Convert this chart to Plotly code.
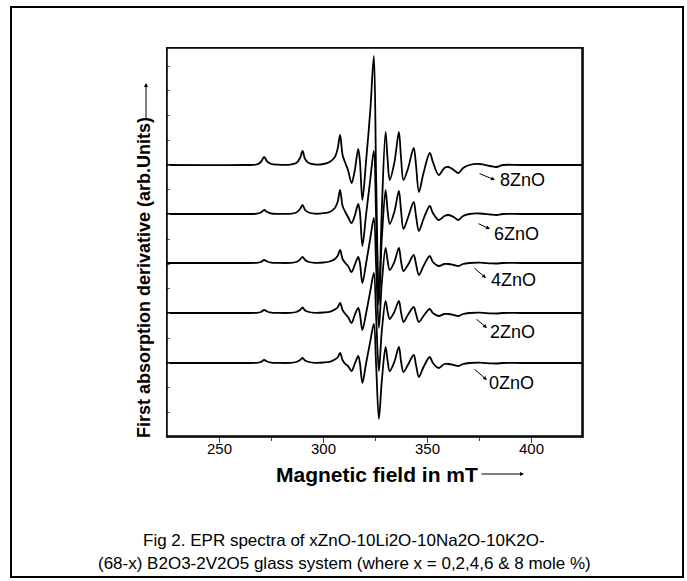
import plotly.graph_objects as go

# Magnetic field key positions (mT)
FIELD = [225, 262, 268, 270, 271.6, 273, 275, 278, 284, 287,
         288.8, 290, 291.2, 293, 296, 300, 303, 305.5, 306.8, 308,
         309.2, 310.5, 311.8, 313.5, 315, 316.7, 317.5, 318.7, 320.5, 322.5,
         324.2, 325.3, 326.6, 328, 329.8, 330.8, 331.8, 334, 336.2, 337.2,
         338.4, 340.5, 343.3, 344.4, 345.8, 348, 351, 352.5, 355.3, 358,
         360, 362.5, 364.7, 367, 370, 375, 380, 383, 386, 395,
         424]

# First-derivative signal (arb. units) for each composition
ZNO_8 = [0, 0, 0.5, 3, 8, 3.5, 1, 0.3, 0.3, 2,
         7, 14, 6, 2, 0.5, 1, 3, 8, 16, 30,
         10, 2, -5, -18, -6, 16, 4, -35, 5, 55,
         109, -15, -140, -45, 33, 5, -15, 2, 33, 8,
         -15, -4, 17, 0, -27, -8, 12, 3, -10, -3,
         -2, -5, -8, -3, 0, 1, -1, -2, 0, 0,
         0]
ZNO_6 = [0, 0, 0.3, 1.5, 4, 2, 0.5, 0.2, 0.2, 1.5,
         5, 9, 4, 1.5, 0.3, 0.8, 2, 6, 12, 24,
         8, 2, -3, -9, -2, 10, 2, -32, 0, 35,
         63, -5, -85, -25, 24, 3, -10, 2, 23, 4,
         -15, -4, 12, -2, -17, -5, 8, 1, -6, -2,
         -1, -3, -6, -2, 0, 0.5, -0.5, -1, 0, 0,
         0]
ZNO_4 = [0, 0, 0.2, 1, 3, 1.5, 0.4, 0.1, 0.1, 1,
         3.5, 6, 3, 1, 0.2, 0.5, 1.5, 4, 7, 13,
         4, 0, -3, -9, -2, 6, 0, -20, 0, 25,
         45, -5, -65, -20, 15, 2, -7, 1, 15, 2,
         -8, -2, 8, -1, -12, -3, 7, 1, -3, -1,
         -1, -2, -3, -1, 0, 0.3, -0.3, -0.5, 0, 0,
         0]
ZNO_2 = [0, 0, 0.2, 1, 3, 1.5, 0.4, 0.1, 0.1, 1,
         3, 5.5, 2.5, 1, 0.2, 0.5, 1.2, 3.5, 5.5, 10,
         3, -1, -4, -10, -2, 5, -1, -17, 0, 22,
         40, -5, -58, -18, 12, 1, -6, 1, 12, 1,
         -9, -2, 6, -1, -9, -3, 4, 0, -3, -1,
         -1, -2, -3, -1, 0, 0.3, -0.3, -0.5, 0, 0,
         0]
ZNO_0 = [0, 0, 0.2, 1, 3, 1.5, 0.4, 0.1, 0.1, 1,
         3, 5, 2.5, 1, 0.2, 0.5, 1.2, 3.5, 5.5, 10,
         3, -1, -3, -8, -1, 7, 0, -20, 0, 22,
         39, -3, -56, -18, 16, 2, -8, 1, 16, 2,
         -9, -2, 8, -2, -14, -4, 6, 0, -5, -1,
         -1, -2, -3, -1, 0, 0.3, -0.3, -0.5, 0, 0,
         0]

SERIES = [ZNO_0, ZNO_2, ZNO_4, ZNO_6, ZNO_8]
OFFSETS = [0, 50, 100, 149, 198]
LABELS = ["0ZnO", "2ZnO", "4ZnO", "6ZnO", "8ZnO"]

X_TICKS = [250, 300, 350, 400]
X_MINOR = [275, 325, 375]

W, H = 687, 581
L, R, T, B = 167, 582, 48, 436


def px(xp):
    return (xp - L) / (R - L)


def py(yp):
    return (B - yp) / (B - T)


fig = go.Figure()
for vals, off in zip(SERIES, OFFSETS):
    fig.add_trace(go.Scatter(
        x=FIELD, y=[v + off for v in vals], mode="lines",
        line=dict(color="black", width=1.8, shape="spline", smoothing=0.9),
        showlegend=False, hoverinfo="skip"))

font = "Liberation Sans, Arial, sans-serif"

# label positions (pixel): text centre, arrow tail, arrow head
label_geo = {
    "8ZnO": ((522, 180), (478, 173), (495, 180)),
    "6ZnO": ((516, 234), (477, 223), (490, 229)),
    "4ZnO": ((513, 280), (473, 267), (486, 278)),
    "2ZnO": ((512, 332), (475, 318), (487, 328)),
    "0ZnO": ((511, 383), (473, 368), (487, 380)),
}

ann = []
for lab in LABELS:
    (tx, ty), (ax, ay), (hx, hy) = label_geo[lab]
    ann.append(dict(x=px(tx), y=py(ty), xref="paper", yref="paper", text=lab,
                    showarrow=False, font=dict(family=font, size=18, color="black"),
                    xanchor="center", yanchor="middle"))
    ann.append(dict(x=px(hx), y=py(hy), xref="paper", yref="paper", text="",
                    showarrow=True, ax=ax - hx, ay=ay - hy, arrowhead=2,
                    arrowsize=0.8, arrowwidth=1, arrowcolor="black"))

# x tick labels
for v in X_TICKS:
    ann.append(dict(x=v, xref="x", y=py(448.5), yref="paper", text=str(v),
                    showarrow=False, font=dict(family=font, size=15, color="black"),
                    xanchor="center", yanchor="middle"))

# axis titles
ann.append(dict(x=px(377), y=py(474), xref="paper", yref="paper",
                text="<b>Magnetic field in mT</b>", showarrow=False,
                font=dict(family=font, size=21, color="black"),
                xanchor="center", yanchor="middle"))
ann.append(dict(x=px(524), y=py(474), xref="paper", yref="paper", text="",
                showarrow=True, ax=-44, ay=0, arrowhead=2, arrowsize=0.8,
                arrowwidth=1, arrowcolor="black"))
ann.append(dict(x=px(144), y=py(278), xref="paper", yref="paper",
                text="<b>First absorption derivative (arb.Units)</b>", showarrow=False,
                textangle=-90, font=dict(family=font, size=18, color="black"),
                xanchor="center", yanchor="middle"))
ann.append(dict(x=px(146), y=py(83), xref="paper", yref="paper", text="",
                showarrow=True, ax=0, ay=37, arrowhead=2, arrowsize=0.8,
                arrowwidth=1, arrowcolor="black"))

# caption
ann.append(dict(x=px(344), y=py(540), xref="paper", yref="paper",
                text="Fig 2. EPR spectra of xZnO-10Li2O-10Na2O-10K2O-", showarrow=False,
                font=dict(family=font, size=17, color="black"),
                xanchor="center", yanchor="middle"))
ann.append(dict(x=px(344), y=py(563), xref="paper", yref="paper",
                text="(68-x) B2O3-2V2O5 glass system (where x = 0,2,4,6 &amp; 8 mole %)",
                showarrow=False, font=dict(family=font, size=17, color="black"),
                xanchor="center", yanchor="middle"))

shapes = [
    dict(type="rect", xref="paper", yref="paper",
         x0=px(11), x1=px(683), y0=py(577), y1=py(7),
         line=dict(color="black", width=2)),
    dict(type="rect", xref="paper", yref="paper",
         x0=px(L), x1=px(R), y0=py(B), y1=py(T),
         line=dict(color="black", width=1.5)),
]

fig.update_layout(
    width=W, height=H,
    margin=dict(l=L, r=W - R, t=T, b=H - B, pad=0),
    paper_bgcolor="white", plot_bgcolor="white",
    annotations=ann, shapes=shapes,
    xaxis=dict(range=[225, 424], tickvals=X_TICKS, showticklabels=False,
               ticks="outside", ticklen=5, tickcolor="#444", tickwidth=1,
               minor=dict(tickvals=X_MINOR, ticks="outside", ticklen=3, tickcolor="#444"),
               showline=True, linecolor="#333", linewidth=1.5, mirror=True,
               showgrid=False, zeroline=False),
    yaxis=dict(range=[-73, 315], tick0=0, dtick=24.75, ticks="inside", ticklen=3,
               tickcolor="#666", showticklabels=False,
               showline=True, linecolor="#333", linewidth=1.5, mirror=True,
               showgrid=False, zeroline=False),
    xaxis2=dict(overlaying="x", side="top", range=[225, 424], showline=True,
                linecolor="black", linewidth=1.5, showticklabels=False, ticks="",
                showgrid=False, zeroline=False),
    yaxis2=dict(overlaying="y", side="right", range=[-73, 315], showline=True,
                linecolor="black", linewidth=1.5, showticklabels=False, ticks="",
                showgrid=False, zeroline=False),
)

fig.write_html("out.html",
               config={"displayModeBar": False, "staticPlot": True},
               post_script="document.body.style.margin='0';document.body.style.overflow='hidden';")
